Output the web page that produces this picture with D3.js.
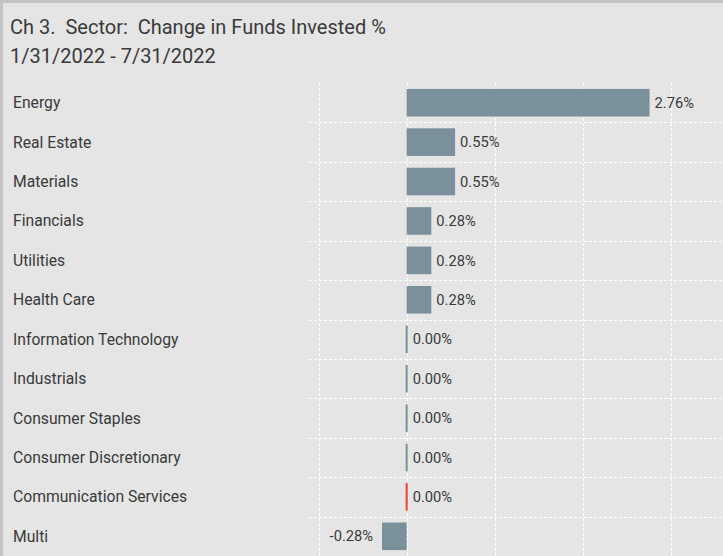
<!DOCTYPE html>
<html>
<head>
<meta charset="utf-8">
<script src="https://cdn.jsdelivr.net/npm/d3@7"></script>
<style>
  html, body { margin: 0; padding: 0; background: #e5e5e5; }
  svg text { font-family: Roboto, "Noto Sans", sans-serif; white-space: pre; }
</style>
</head>
<body>
<script>
// Sector change in funds invested, Jan 31 2022 to Jul 31 2022 (percent)
const sectors = ["Energy", "Real Estate", "Materials", "Financials", "Utilities", "Health Care",
  "Information Technology", "Industrials", "Consumer Staples", "Consumer Discretionary",
  "Communication Services", "Multi"];
const changes = [2.76, 0.55, 0.55, 0.28, 0.28, 0.28, 0.00, 0.00, 0.00, 0.00, 0.00, -0.28];
const zeroColors = ["#7a909b", "#7a909b", "#7a909b", "#7a909b", "#e8412c"]; // IT, Industrials, Staples, Discretionary, Comm
const gridTicks = [-1, 0, 1, 2, 3];
const titleLines = ["Ch 3.  Sector:  Change in Funds Invested %", "1/31/2022 - 7/31/2022"];

const W = 723, H = 556;
const svg = d3.select("body").append("svg").attr("width", W).attr("height", H);

svg.append("rect").attr("width", W).attr("height", H).attr("fill", "#e5e5e5");
// frame
svg.append("rect").attr("x", 1.5).attr("y", 1.5).attr("width", W + 10).attr("height", H + 10)
  .attr("fill", "none").attr("stroke", "#c3c3c3").attr("stroke-width", 3);

titleLines.forEach((t, i) => {
  svg.append("text").attr("x", 10).attr("y", 34 + i * 29)
    .attr("font-size", 20).attr("fill", "#3a3a3a").text(t);
});

const plotLeft = 309, plotRight = 723, plotTop = 83, plotBottom = 556;
const x = d3.scaleLinear().domain([-1.11, 3.6]).range([plotLeft, plotLeft + 4.71 * 88]);
const y = d3.scaleBand().domain(sectors).range([plotTop, plotBottom]).paddingInner(0.3).paddingOuter(0.15);
const yb = d3.scaleBand().domain(sectors).range([plotTop, plotBottom]);

// grid
const grid = svg.append("g").attr("stroke", "#ffffff").attr("stroke-width", 1)
  .attr("stroke-dasharray", "3,2").attr("fill", "none");
gridTicks.forEach(t => {
  grid.append("line").attr("x1", Math.round(x(t)) + 0.5).attr("x2", Math.round(x(t)) + 0.5)
    .attr("y1", plotTop).attr("y2", plotBottom);
});
sectors.slice(1).forEach(s => {
  const yy = Math.round(yb(s)) + 0.5;
  grid.append("line").attr("x1", plotLeft).attr("x2", plotRight).attr("y1", yy).attr("y2", yy);
});

// category labels
svg.append("g").selectAll("text").data(sectors).join("text")
  .attr("x", 13).attr("y", d => y(d) + y.bandwidth() / 2)
  .attr("dy", "0.35em").attr("font-size", 15.7).attr("fill", "#3a3a3a").text(d => d);

// bars
const data = sectors.map((s, i) => ({ s, v: changes[i], i }));
let zi = 0;
data.forEach(d => { d.zc = d.v === 0 ? zeroColors[zi++] : null; });

svg.append("g").selectAll("rect").data(data).join("rect")
  .attr("x", d => d.v === 0 ? x(0) - 1 : Math.min(x(0), x(d.v)))
  .attr("width", d => d.v === 0 ? 2 : Math.abs(x(d.v) - x(0)))
  .attr("y", d => y(d.s)).attr("height", y.bandwidth())
  .attr("fill", d => d.zc || "#7a909b");

// value labels
svg.append("g").selectAll("text").data(data).join("text")
  .attr("x", d => d.v < 0 ? x(d.v) - 9 : (d.v === 0 ? x(0) + 1 : x(d.v)) + 5)
  .attr("text-anchor", d => d.v < 0 ? "end" : "start")
  .attr("y", d => y(d.s) + y.bandwidth() / 2).attr("dy", "0.35em")
  .attr("font-size", 14.7).attr("fill", "#3a3a3a")
  .text(d => d.v.toFixed(2) + "%");
</script>
</body>
</html>
